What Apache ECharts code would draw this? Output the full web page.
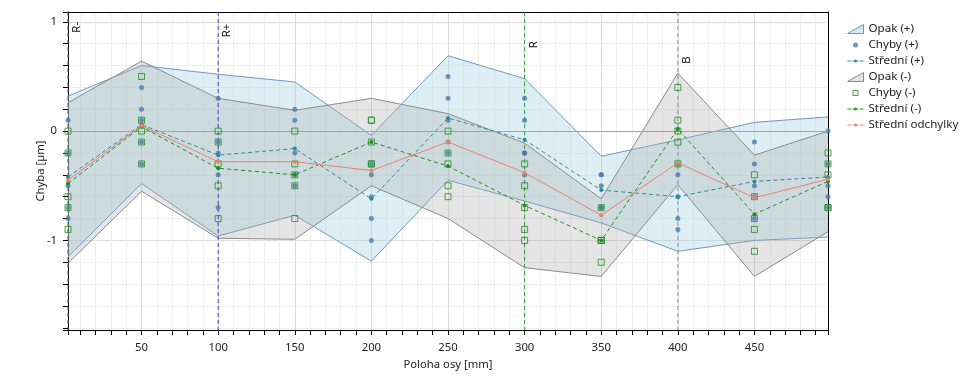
<!DOCTYPE html>
<html><head><meta charset="utf-8">
<script src="https://cdn.jsdelivr.net/npm/echarts@6/dist/echarts.min.js"></script>
<style>html,body{margin:0;padding:0;background:#fff}#c{width:979px;height:385px}</style>
</head><body><div id="c"></div>
<script>
// Axis positions [mm]
const positions = [2, 50, 100, 150, 200, 250, 300, 350, 400, 450, 498];
// Individual errors (5 runs per position)
const chybyPlus = [
  [0.1, -0.2, -0.5, -0.7, -0.8],
  [0.4, 0.2, 0.1, -0.1, -0.3],
  [0.3, -0.1, -0.2, -0.4, -0.7],
  [0.2, 0.1, -0.2, -0.4, -0.5],
  [-0.3, -0.4, -0.6, -0.8, -1.0],
  [0.5, 0.3, 0.1, -0.1, -0.2],
  [0.3, 0.1, -0.2, -0.2, -0.4],
  [-0.4, -0.4, -0.5, -0.7, -0.7],
  [-0.3, -0.4, -0.6, -0.8, -0.9],
  [-0.1, -0.3, -0.5, -0.6, -0.8],
  [0.0, -0.3, -0.5, -0.6, -0.7]
];
const chybyMinus = [
  [0.0, -0.2, -0.6, -0.7, -0.9],
  [0.5, 0.1, 0.0, -0.1, -0.3],
  [0.0, -0.1, -0.3, -0.5, -0.8],
  [0.0, -0.3, -0.4, -0.5, -0.8],
  [0.1, 0.1, -0.1, -0.3, -0.3],
  [0.0, -0.2, -0.3, -0.5, -0.6],
  [-0.3, -0.5, -0.7, -0.9, -1.0],
  [-0.7, -1.0, -1.0, -1.0, -1.2],
  [0.4, 0.1, 0.0, -0.1, -0.3],
  [-0.4, -0.6, -0.8, -0.9, -1.1],
  [-0.2, -0.3, -0.4, -0.7, -0.7]
];
const opakPlusUpper  = [0.32, 0.60, 0.52, 0.45, -0.04, 0.69, 0.48, -0.23, -0.08, 0.08, 0.13];
const opakPlusLower  = [-1.15, -0.48, -0.96, -0.77, -1.19, -0.45, -0.64, -0.84, -1.10, -1.00, -0.97];
const opakMinusUpper = [0.26, 0.64, 0.30, 0.19, 0.30, 0.16, -0.11, -0.62, 0.53, -0.22, 0.00];
const opakMinusLower = [-1.21, -0.55, -0.98, -0.99, -0.50, -0.80, -1.25, -1.33, -0.49, -1.33, -0.92];
const stredniPlus    = [-0.42, 0.06, -0.22, -0.16, -0.62, 0.12, -0.08, -0.54, -0.60, -0.46, -0.42];
const stredniMinus   = [-0.48, 0.04, -0.34, -0.40, -0.10, -0.32, -0.68, -1.00, 0.02, -0.76, -0.46];
const stredniOdchylky= [-0.45, 0.05, -0.28, -0.28, -0.36, -0.10, -0.38, -0.77, -0.29, -0.61, -0.44];
// Reference markers
const markerNames = ['R-', 'R+', 'R', 'B'];
const markerX = [2, 100, 300, 400];
const markerLabelY = [0.95, 0.92, 0.79, 0.65];
const markerColors = ['#555555', '#4444cc', '#3a9a3a', '#8a9aaa'];

const Y_MIN = -1.82, Y_MAX = 1.09;
const FONT = 'Noto Sans';
const FS = 11.3;

function zipXY(vals) { return positions.map((x, i) => [x, vals[i]]); }
function flatPoints(groups) {
  const out = [];
  groups.forEach((g, i) => g.forEach(v => out.push([positions[i], v])));
  return out;
}
function bandRenderer(upper, lower, fill, stroke) {
  return function (params, api) {
    const up = positions.map((x, i) => api.coord([x, upper[i]]));
    const lo = positions.map((x, i) => api.coord([x, lower[i]]));
    return {
      type: 'group',
      children: [
        { type: 'polygon', shape: { points: up.concat(lo.slice().reverse()) }, style: { fill: fill } },
        { type: 'polyline', shape: { points: up }, style: { stroke: stroke, lineWidth: 1, fill: null } },
        { type: 'polyline', shape: { points: lo }, style: { stroke: stroke, lineWidth: 1, fill: null } }
      ]
    };
  };
}
function markerRenderer(params, api) {
  const i = params.dataIndex;
  const x = api.value(0);
  const top = api.coord([x, Y_MAX]);
  const bot = api.coord([x, Y_MIN]);
  const lab = api.coord([x, markerLabelY[i]]);
  return {
    type: 'group',
    children: [
      { type: 'line', shape: { x1: top[0], y1: top[1], x2: bot[0], y2: bot[1] },
        style: { stroke: markerColors[i], lineWidth: 1, lineDash: [4, 3] } },
      { type: 'text', x: lab[0] + 9, y: lab[1], rotation: Math.PI / 2,
        style: { text: markerNames[i], fill: '#111', font: FS + 'px ' + FONT, align: 'center', verticalAlign: 'middle' } }
    ]
  };
}

const box = 'M0,0M16,12';
const dashDot = box + 'M0,5.5h3.5v1h-3.5zM5,5.5h1.5v1h-1.5zM9.5,5.5h1.5v1h-1.5zM12.5,5.5h3.5v1h-3.5zM6.5,6a1.5,1.5 0 1,0 3,0a1.5,1.5 0 1,0 -3,0z';
const hollowSq = box + 'M5,3h6v1h-6zM5,8h6v1h-6zM5,4h1v4h-1zM10,4h1v4h-1z';
const COL_PLUS_LINE = '#6e9ac2', COL_MINUS_LINE = '#8c8c8c';
const COL_DOT = '#4b7bab', COL_SQ = '#1f8f1f', COL_SP = '#2b8a9a', COL_SM = '#1f8f1f', COL_SO = '#f07f6f';

function axisCommon() {
  return {
    axisLine: { show: true, onZero: false, lineStyle: { color: '#000', width: 1 } },
    axisTick: { show: true, length: 5, lineStyle: { color: '#000' } },
    minorTick: { show: true, splitNumber: 5, length: 5, lineStyle: { color: '#000' } },
    splitLine: { show: true, lineStyle: { color: '#dadada', width: 1 } },
    minorSplitLine: { show: true, lineStyle: { color: '#efefef', width: 1 } }
  };
}

const chart = echarts.init(document.getElementById('c'), null, { renderer: 'canvas' });
chart.setOption({
  animation: false,
  backgroundColor: '#fff',
  textStyle: { fontFamily: FONT },
  grid: { left: 68, right: 151, top: 12, bottom: 55, show: false },
  legend: {
    orient: 'vertical', left: 842, top: 18, itemWidth: 16, itemHeight: 12, itemGap: 4,
    textStyle: { fontSize: FS + 0.3, color: '#222', fontFamily: FONT },
    data: [
      { name: 'Opak (+)', icon: 'path://M0,12L16,3L16,12Z', itemStyle: { color: 'rgba(173,216,230,0.55)', borderColor: COL_PLUS_LINE, borderWidth: 1 } },
      { name: 'Chyby (+)', icon: 'path://' + box + 'M5.5,6a2.5,2.5 0 1,0 5,0a2.5,2.5 0 1,0 -5,0z', itemStyle: { color: COL_DOT, borderWidth: 0 } },
      { name: 'Střední (+)', icon: 'path://' + dashDot, itemStyle: { color: COL_SP, borderWidth: 0 } },
      { name: 'Opak (-)', icon: 'path://M0,12L16,3L16,12Z', itemStyle: { color: 'rgba(169,169,169,0.35)', borderColor: COL_MINUS_LINE, borderWidth: 1 } },
      { name: 'Chyby (-)', icon: 'path://' + hollowSq, itemStyle: { color: COL_SQ, borderWidth: 0, borderColor: 'rgba(0,0,0,0)' } },
      { name: 'Střední (-)', icon: 'path://' + dashDot, itemStyle: { color: COL_SM, borderWidth: 0 } },
      { name: 'Střední odchylky', icon: 'path://' + dashDot, itemStyle: { color: COL_SO, borderWidth: 0 } }
    ]
  },
  xAxis: [
    Object.assign(axisCommon(), {
      type: 'value', min: 2, max: 498, minInterval: 50, maxInterval: 50,
      name: 'Poloha osy [mm]', nameLocation: 'middle', nameGap: 29, nameMoveOverlap: false,
      nameTextStyle: { fontSize: FS, color: '#222', fontFamily: FONT },
      axisLabel: { fontSize: FS, color: '#222', margin: 12,
        formatter: v => (Math.abs(v % 50) < 1e-6 ? String(Math.round(v)) : '') }
    }),
    { type: 'value', position: 'top', min: 2, max: 498,
      axisLine: { show: true, onZero: false, lineStyle: { color: '#000' } },
      axisTick: { show: false }, axisLabel: { show: false }, splitLine: { show: false } }
  ],
  yAxis: [
    Object.assign(axisCommon(), {
      type: 'value', min: Y_MIN, max: Y_MAX, minInterval: 1, maxInterval: 1,
      name: 'Chyba [µm]', nameLocation: 'middle', nameGap: 22, nameMoveOverlap: false,
      nameTextStyle: { fontSize: FS, color: '#222', fontFamily: FONT },
      axisLabel: { fontSize: FS, color: '#222', margin: 11,
        formatter: v => (Math.abs(v - Math.round(v)) < 1e-6 ? String(Math.round(v)) : '') }
    }),
    { type: 'value', position: 'right', min: Y_MIN, max: Y_MAX,
      axisLine: { show: true, onZero: false, lineStyle: { color: '#000' } },
      axisTick: { show: false }, axisLabel: { show: false }, splitLine: { show: false } }
  ],
  series: [
    { type: 'custom', name: 'Opak (+)', renderItem: bandRenderer(opakPlusUpper, opakPlusLower, 'rgba(173,216,230,0.42)', COL_PLUS_LINE),
      data: [[positions[0], 0]], encode: { x: 0, y: 1 }, z: 1, silent: true, itemStyle: { color: 'rgba(173,216,230,0.55)' } },
    { type: 'custom', name: 'Opak (-)', renderItem: bandRenderer(opakMinusUpper, opakMinusLower, 'rgba(169,169,169,0.3)', COL_MINUS_LINE),
      data: [[positions[0], 0]], encode: { x: 0, y: 1 }, z: 1, silent: true, itemStyle: { color: 'rgba(169,169,169,0.35)' } },
    { type: 'custom', name: 'markers', renderItem: markerRenderer,
      data: markerX.map(x => [x, 0]), encode: { x: 0, y: 1 }, z: 2, silent: true },
    { type: 'scatter', name: 'Chyby (+)', data: flatPoints(chybyPlus), symbol: 'circle', symbolSize: 5,
      itemStyle: { color: COL_DOT }, z: 3, silent: true,
      markLine: { silent: true, symbol: 'none', label: { show: false },
        lineStyle: { color: '#a3a3a3', type: 'solid', width: 1 }, data: [{ yAxis: 0 }] } },
    { type: 'line', name: 'Střední (+)', data: zipXY(stredniPlus), symbol: 'circle', symbolSize: 4, showAllSymbol: true,
      lineStyle: { color: COL_SP, width: 1, type: [4, 3] }, itemStyle: { color: COL_SP }, z: 4, silent: true },
    { type: 'scatter', name: 'Chyby (-)', data: flatPoints(chybyMinus), symbol: 'rect', symbolSize: 6,
      itemStyle: { color: 'rgba(0,0,0,0)', borderColor: COL_SQ, borderWidth: 1 }, z: 5, silent: true },
    { type: 'line', name: 'Střední (-)', data: zipXY(stredniMinus), symbol: 'circle', symbolSize: 4, showAllSymbol: true,
      lineStyle: { color: COL_SM, width: 1, type: [4, 3] }, itemStyle: { color: COL_SM }, z: 6, silent: true },
    { type: 'line', name: 'Střední odchylky', data: zipXY(stredniOdchylky), symbol: 'circle', symbolSize: 4, showAllSymbol: true,
      lineStyle: { color: COL_SO, width: 1 }, itemStyle: { color: COL_SO }, z: 7, silent: true }
  ]
});
</script>
</body></html>
